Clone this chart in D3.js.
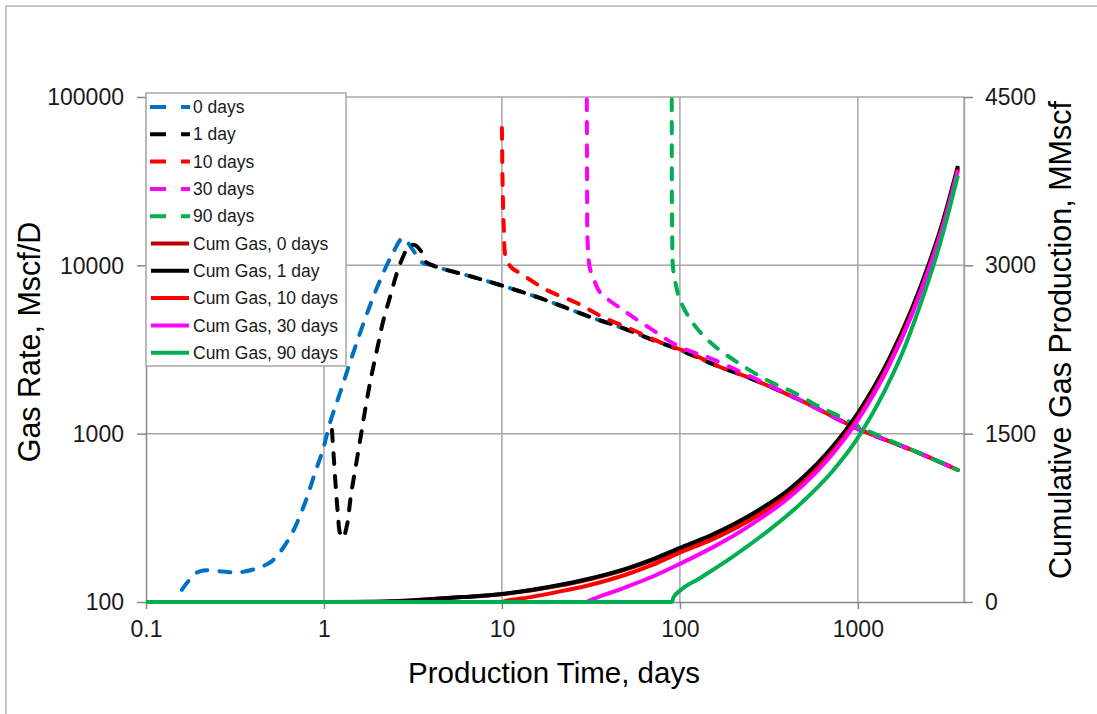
<!DOCTYPE html>
<html><head><meta charset="utf-8">
<script src="https://cdn.jsdelivr.net/npm/d3@7"></script>
<style>
html,body{margin:0;padding:0;background:#fff;}
svg{display:block;font-family:"Liberation Sans",Arial,sans-serif;}
</style></head>
<body><svg id="chart" width="1097" height="714"></svg>
<script>
// ---------- DATA ----------
const xTickValues = [0.1, 1, 10, 100, 1000];
const xTickLabels = ["0.1", "1", "10", "100", "1000"];
const yLeftTickValues = [100, 1000, 10000, 100000];
const yLeftTickLabels = ["100", "1000", "10000", "100000"];
const yRightTickValues = [0, 1500, 3000, 4500];
const yRightTickLabels = ["0", "1500", "3000", "4500"];

const seriesNames = ["0 days", "1 day", "10 days", "30 days", "90 days",
  "Cum Gas, 0 days", "Cum Gas, 1 day", "Cum Gas, 10 days", "Cum Gas, 30 days", "Cum Gas, 90 days"];

// Gas rate (Mscf/D) vs time (days)
const rate0Time = [0.159, 0.17, 0.19, 0.21, 0.25, 0.30, 0.35, 0.43, 0.51, 0.644, 0.782, 0.889, 0.986, 1.08, 1.23, 1.46, 1.75, 2.07, 2.44, 2.78, 3.16, 3.60, 4.04, 4.49, 6.61, 9.75, 16.3, 32.4, 47.9, 70.5, 100, 168, 247, 472, 986, 2143, 3650];
const rate0 = [118, 130, 148, 154, 153, 150, 151, 160, 175, 243, 387, 583, 800, 1157, 1742, 3015, 5210, 8180, 11830, 14520, 12330, 10320, 10040, 9640, 8630, 7640, 6400, 4870, 4236, 3600, 3140, 2489, 2140, 1585, 1078, 778, 608];

const rate1Time = [1.109, 1.138, 1.168, 1.199, 1.230, 1.279, 1.347, 1.418, 1.513, 1.614, 1.722, 1.837, 1.985, 2.145, 2.349, 2.571, 2.779, 3.003, 3.245, 3.507, 3.741, 4.044, 4.485, 6.61, 9.75, 16.3, 32.4, 47.9, 70.5, 100, 168, 247, 472, 986, 2143, 3650];
const rate1 = [1051, 697, 462, 328, 257, 240, 286, 432, 651, 981, 1479, 2140, 3139, 4603, 6479, 8999, 11203, 13020, 13200, 12160, 10460, 10040, 9640, 8630, 7640, 6400, 4870, 4236, 3600, 3140, 2489, 2140, 1585, 1078, 778, 608];

const rate10Time = [10.0, 10.06, 10.13, 10.26, 10.53, 11.38, 12.62, 17.89, 26.4, 36.9, 54.5, 77.2, 113.8, 168, 247, 472, 986, 2143, 3650];
const rate10 = [65500, 36800, 24430, 16220, 11050, 9640, 9000, 7130, 5970, 4930, 4130, 3500, 3013, 2489, 2140, 1585, 1078, 778, 608];

const rate30Time = [30.0, 30.05, 30.12, 30.27, 31.2, 33.3, 35.5, 47.9, 67.8, 100, 147.4, 247, 472, 986, 2143, 3650];
const rate30 = [97000, 48400, 24430, 14130, 9640, 7960, 6930, 5420, 4236, 3270, 2812, 2197, 1585, 1078, 778, 608];

const rate90Time = [90.0, 90.05, 90.2, 90.6, 91.5, 95.0, 100, 118.3, 147.4, 209, 308, 431.5, 612, 762, 1026, 2143, 3650];
const rate90 = [97000, 48400, 24430, 14130, 9640, 7640, 6225, 4540, 3500, 2664, 2082, 1766, 1439, 1290, 1094, 778, 608];

// Cumulative gas (MMscf) vs time (days)
const cum0Time = [0.1, 1, 2, 3, 4, 6, 10, 20, 30, 50, 70, 100, 150, 200, 300, 400, 500, 700, 1000, 1500, 2000, 2500, 3000, 3650];
const cum0 = [0, 0.4, 3, 14, 26, 44, 70, 140, 196, 290, 370, 472, 585, 680, 840, 975, 1105, 1345, 1667, 2150, 2586, 2990, 3370, 3870];
const cum1Time = cum0Time;
const cum1 = [0, 0.3, 1.5, 12, 25, 44, 72, 145, 203, 298, 380, 482, 596, 692, 853, 989, 1120, 1361, 1684, 2168, 2604, 3008, 3388, 3885];
const cum10Time = [0.1, 10, 10.5, 12, 15, 20, 30, 50, 70, 100, 150, 200, 300, 400, 500, 700, 1000, 1500, 2000, 2500, 3000, 3650];
const cum10 = [0, 0, 10, 24, 48, 86, 145, 245, 330, 440, 553, 648, 808, 943, 1075, 1318, 1641, 2126, 2563, 2968, 3350, 3855];
const cum30Time = [0.1, 30, 31, 35, 40, 50, 70, 100, 150, 200, 300, 400, 500, 700, 1000, 1500, 2000, 2500, 3000, 3650];
const cum30 = [0, 0, 12, 46, 78, 135, 225, 340, 480, 590, 770, 915, 1050, 1295, 1620, 2108, 2548, 2958, 3340, 3845];
const cum90Time = [0.1, 90, 92, 100, 129.4, 198.6, 308, 472, 724, 986, 1382, 1789, 2143, 2880, 3650];
const cum90 = [0, 0, 40, 100, 212, 405, 625, 870, 1170, 1450, 1850, 2230, 2560, 3180, 3800];

const colors = ["#0070C0", "#000000", "#FF0000", "#FF00FF", "#00B050",
                "#C00000", "#000000", "#FF0000", "#FF00FF", "#00B050"];

// ---------- LAYOUT ----------
const svg = d3.select("#chart");
const L = 146, R = 964, T = 97, B = 602;
const x = d3.scaleLog().domain([0.1, 4000]).range([L, R + 1]);
const yL = d3.scaleLog().domain([100, 100000]).range([B, T]);
const yR = d3.scaleLinear().domain([0, 4500]).range([B, T]);
const gridColor = "#a6a6a6", axisColor = "#868686";

// outer chart border
svg.append("rect").attr("x", 6).attr("y", 6).attr("width", 1100).attr("height", 720)
  .attr("fill", "none").attr("stroke", "#b4b4b4").attr("stroke-width", 1.5);

// gridlines
const grid = svg.append("g");
xTickValues.slice(1).forEach(v => grid.append("line")
  .attr("x1", x(v)).attr("x2", x(v)).attr("y1", T).attr("y2", B)
  .attr("stroke", gridColor).attr("stroke-width", 1.5));
yLeftTickValues.slice(1).forEach(v => grid.append("line")
  .attr("x1", L).attr("x2", R).attr("y1", yL(v)).attr("y2", yL(v))
  .attr("stroke", gridColor).attr("stroke-width", 1.5));
grid.append("line").attr("x1", R).attr("x2", R).attr("y1", T).attr("y2", B)
  .attr("stroke", gridColor).attr("stroke-width", 1.5);

// axes
const fmtX = d => xTickLabels[xTickValues.indexOf(d)];
const fmtL = d => yLeftTickLabels[yLeftTickValues.indexOf(d)];
const fmtR = d => yRightTickLabels[yRightTickValues.indexOf(d)];

function styleAxis(g) {
  g.select(".domain").attr("stroke", axisColor).attr("stroke-width", 1.5);
  g.selectAll(".tick line").attr("stroke", axisColor).attr("stroke-width", 1.5);
  g.selectAll(".tick text").attr("fill", "#1a1a1a").style("font-size", "23px")
    .style("font-family", "'Liberation Sans', Arial, sans-serif");
}
const gx = svg.append("g").attr("transform", `translate(0,${B})`)
  .call(d3.axisBottom(x).tickValues(xTickValues).tickFormat(fmtX).tickSize(7).tickSizeOuter(0).tickPadding(12));
styleAxis(gx);
const gl = svg.append("g").attr("transform", `translate(${L},0)`)
  .call(d3.axisLeft(yL).tickValues(yLeftTickValues).tickFormat(fmtL).tickSize(9).tickSizeOuter(0).tickPadding(13));
styleAxis(gl);
gl.selectAll(".tick text").attr("dy", "0.34em");
const gr = svg.append("g").attr("transform", `translate(${R},0)`)
  .call(d3.axisRight(yR).tickValues(yRightTickValues).tickFormat(fmtR).tickSize(9).tickSizeOuter(0).tickPadding(12));
styleAxis(gr);
gr.select(".domain").attr("stroke", gridColor);

// axis titles
svg.append("text").attr("x", 554).attr("y", 683).attr("text-anchor", "middle")
  .style("font-size", "29.5px").attr("fill", "#000").text("Production Time, days");
svg.append("text").attr("transform", "translate(40,342) rotate(-90)").attr("text-anchor", "middle")
  .style("font-size", "30.5px").attr("fill", "#000").text("Gas Rate, Mscf/D");
svg.append("text").attr("transform", "translate(1071,340) rotate(-90)").attr("text-anchor", "middle")
  .style("font-size", "30.5px").attr("fill", "#000").text("Cumulative Gas Production, MMscf");

// clip
svg.append("defs").append("clipPath").attr("id", "plotclip").append("rect")
  .attr("x", L).attr("y", T).attr("width", R - L + 6).attr("height", B - T + 4);

const plot = svg.append("g").attr("clip-path", "url(#plotclip)");
const dash = "11 12";

const rateSeries = [[rate0Time, rate0], [rate1Time, rate1], [rate10Time, rate10], [rate30Time, rate30], [rate90Time, rate90]];
const cumSeries = [[cum0Time, cum0], [cum1Time, cum1], [cum10Time, cum10], [cum30Time, cum30], [cum90Time, cum90]];

const rateLine = d3.line().x(d => x(d[0])).y(d => yL(d[1])).curve(d3.curveCatmullRom.alpha(0.5));
const cumLine = d3.line().x(d => x(d[0])).y(d => yR(d[1])).curve(d3.curveMonotoneX);

rateSeries.forEach((s, i) => {
  const pts = s[0].map((t, k) => [t, s[1][k]]);
  plot.append("path").attr("d", rateLine(pts)).attr("fill", "none")
    .attr("stroke", colors[i]).attr("stroke-width", 4).attr("stroke-dasharray", dash)
    .attr("stroke-linecap", "round");
});
cumSeries.forEach((s, i) => {
  const pts = s[0].map((t, k) => [t, s[1][k]]);
  plot.append("path").attr("d", cumLine(pts)).attr("fill", "none")
    .attr("stroke", colors[i + 5]).attr("stroke-width", 4).attr("stroke-linejoin", "round");
});

// legend
const lg = svg.append("g");
lg.append("rect").attr("x", 146).attr("y", 93).attr("width", 200).attr("height", 273)
  .attr("fill", "#fff").attr("stroke", "#a6a6a6").attr("stroke-width", 1.5);
seriesNames.forEach((name, i) => {
  const yy = 107 + i * 27.3;
  const ln = lg.append("line").attr("x1", 151).attr("x2", 189).attr("y1", yy).attr("y2", yy)
    .attr("stroke", colors[i]).attr("stroke-width", 4);
  if (i < 5) ln.attr("stroke-dasharray", "16 15").attr("x1", 150).attr("x2", 190);
  lg.append("text").attr("x", 193).attr("y", yy).attr("dy", "0.35em")
    .style("font-size", "17.5px").attr("fill", "#1a1a1a").text(name);
});
</script></body></html>
